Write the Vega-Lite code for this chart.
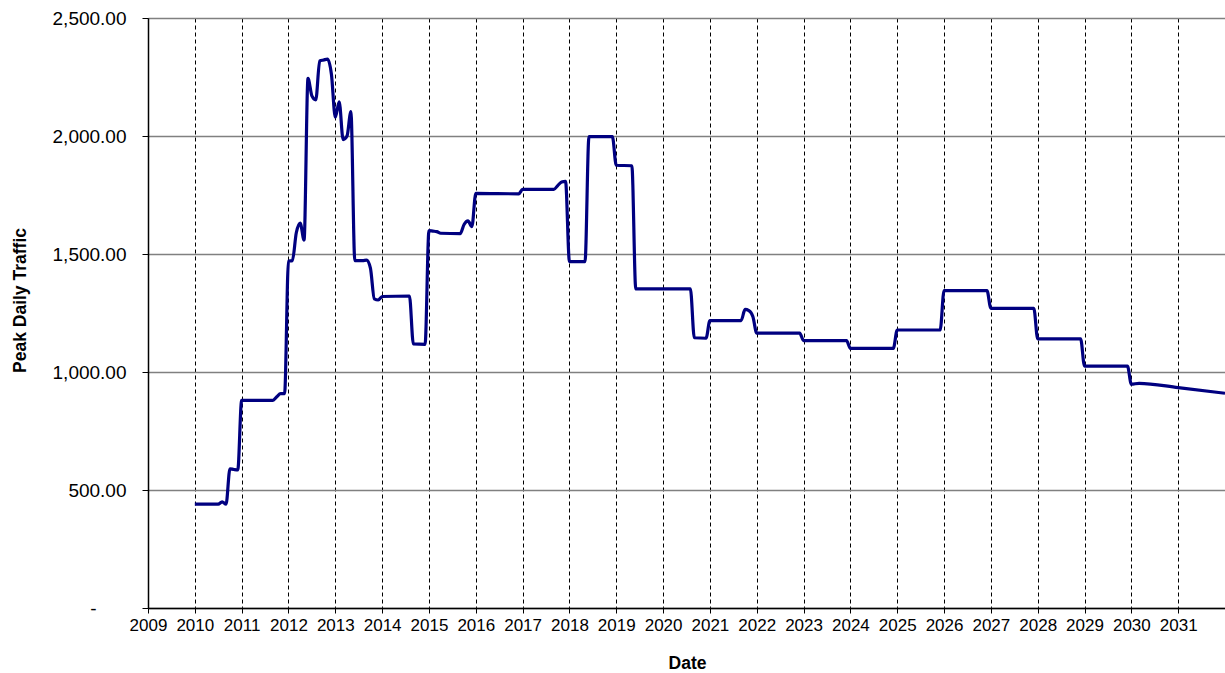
{
  "$schema": "https://vega.github.io/schema/vega-lite/v6.json",
  "width": 1077,
  "height": 590,
  "autosize": {"type": "none"},
  "padding": {"left": 148, "top": 18, "right": 0, "bottom": 65},
  "background": "white",
  "config": {
    "view": {"stroke": null},
    "font": "Liberation Sans"
  },
  "data": {
    "values": [
      {"t": 2010.000, "v": 440}, {"t": 2010.500, "v": 440}, {"t": 2010.583, "v": 450}, {"t": 2010.667, "v": 440},
      {"t": 2010.750, "v": 590}, {"t": 2010.833, "v": 587}, {"t": 2010.917, "v": 585},
      {"t": 2011.000, "v": 880}, {"t": 2011.667, "v": 880}, {"t": 2011.750, "v": 895}, {"t": 2011.833, "v": 908}, {"t": 2011.917, "v": 908},
      {"t": 2012.000, "v": 1470}, {"t": 2012.083, "v": 1472}, {"t": 2012.167, "v": 1590}, {"t": 2012.250, "v": 1631},
      {"t": 2012.333, "v": 1559}, {"t": 2012.417, "v": 2244}, {"t": 2012.500, "v": 2170}, {"t": 2012.583, "v": 2153},
      {"t": 2012.667, "v": 2318}, {"t": 2012.750, "v": 2322}, {"t": 2012.833, "v": 2326}, {"t": 2012.917, "v": 2262},
      {"t": 2013.000, "v": 2080}, {"t": 2013.083, "v": 2145}, {"t": 2013.167, "v": 1985}, {"t": 2013.250, "v": 2000},
      {"t": 2013.333, "v": 2103}, {"t": 2013.417, "v": 1472}, {"t": 2013.500, "v": 1472}, {"t": 2013.583, "v": 1472},
      {"t": 2013.667, "v": 1474}, {"t": 2013.750, "v": 1440}, {"t": 2013.833, "v": 1310}, {"t": 2013.917, "v": 1305},
      {"t": 2014.000, "v": 1320}, {"t": 2014.583, "v": 1322}, {"t": 2014.667, "v": 1119}, {"t": 2014.917, "v": 1117},
      {"t": 2015.000, "v": 1599}, {"t": 2015.083, "v": 1597}, {"t": 2015.167, "v": 1595}, {"t": 2015.250, "v": 1588},
      {"t": 2015.667, "v": 1586}, {"t": 2015.750, "v": 1625}, {"t": 2015.833, "v": 1640}, {"t": 2015.917, "v": 1616},
      {"t": 2016.000, "v": 1757}, {"t": 2016.917, "v": 1755},
      {"t": 2017.000, "v": 1774}, {"t": 2017.667, "v": 1774}, {"t": 2017.750, "v": 1790}, {"t": 2017.833, "v": 1805}, {"t": 2017.917, "v": 1808},
      {"t": 2018.000, "v": 1468}, {"t": 2018.333, "v": 1468}, {"t": 2018.417, "v": 1997}, {"t": 2018.917, "v": 1997},
      {"t": 2019.000, "v": 1876}, {"t": 2019.333, "v": 1874}, {"t": 2019.417, "v": 1352},
      {"t": 2020.583, "v": 1352}, {"t": 2020.667, "v": 1145}, {"t": 2020.917, "v": 1143},
      {"t": 2021.000, "v": 1218}, {"t": 2021.667, "v": 1218}, {"t": 2021.750, "v": 1265}, {"t": 2021.833, "v": 1260}, {"t": 2021.917, "v": 1235},
      {"t": 2022.000, "v": 1165}, {"t": 2022.917, "v": 1165},
      {"t": 2023.000, "v": 1133}, {"t": 2023.917, "v": 1133},
      {"t": 2024.000, "v": 1100}, {"t": 2024.917, "v": 1100},
      {"t": 2025.000, "v": 1178}, {"t": 2025.917, "v": 1178},
      {"t": 2026.000, "v": 1345}, {"t": 2026.917, "v": 1345},
      {"t": 2027.000, "v": 1270}, {"t": 2027.917, "v": 1270},
      {"t": 2028.000, "v": 1140}, {"t": 2028.917, "v": 1140},
      {"t": 2029.000, "v": 1025}, {"t": 2029.917, "v": 1025},
      {"t": 2030.000, "v": 948}, {"t": 2030.167, "v": 952}, {"t": 2031.000, "v": 934}, {"t": 2032.000, "v": 910}
    ]
  },
  "mark": {"type": "line", "color": "#000080", "strokeWidth": 3.2, "interpolate": "monotone", "clip": true},
  "encoding": {
    "x": {
      "field": "t",
      "type": "quantitative",
      "scale": {"domain": [2009, 2032], "nice": false, "zero": false},
      "axis": {
        "title": "Date",
        "values": [2009, 2010, 2011, 2012, 2013, 2014, 2015, 2016, 2017, 2018, 2019, 2020, 2021, 2022, 2023, 2024, 2025, 2026, 2027, 2028, 2029, 2030, 2031],
        "format": "d",
        "grid": true,
        "gridColor": "#000000",
        "gridDash": [4, 3],
        "gridWidth": 1,
        "domainColor": "#000000",
        "domainWidth": 1.5,
        "tickColor": "#000000",
        "tickSize": 5,
        "tickWidth": 1,
        "labelFontSize": 17,
        "labelColor": "#000000",
        "labelPadding": 4,
        "labelFlush": false,
        "labelOverlap": false,
        "titleFontSize": 17.5,
        "titleFontWeight": "bold",
        "titleColor": "#000000",
        "titleX": 539,
        "titleY": 55,
        "titleBaseline": "middle",
        "titleAlign": "center"
      }
    },
    "y": {
      "field": "v",
      "type": "quantitative",
      "scale": {"domain": [0, 2500], "nice": false},
      "axis": {
        "title": "Peak Daily Traffic",
        "values": [0, 500, 1000, 1500, 2000, 2500],
        "labelExpr": "datum.value == 0 ? '-' : format(datum.value, ',.2f')",
        "grid": true,
        "gridColor": "#808080",
        "gridWidth": 1.5,
        "domainColor": "#000000",
        "domainWidth": 1.5,
        "tickColor": "#000000",
        "tickSize": 6,
        "tickWidth": 1,
        "labelFontSize": 19,
        "labelColor": "#000000",
        "labelPadding": {"condition": {"test": "datum.value == 0", "value": 46}, "value": 16},
        "labelFlush": false,
        "titleFontSize": 17.5,
        "titleFontWeight": "bold",
        "titleColor": "#000000",
        "titleX": -128,
        "titleY": 282,
        "titleAngle": -90,
        "titleBaseline": "middle",
        "titleAlign": "center"
      }
    }
  }
}
